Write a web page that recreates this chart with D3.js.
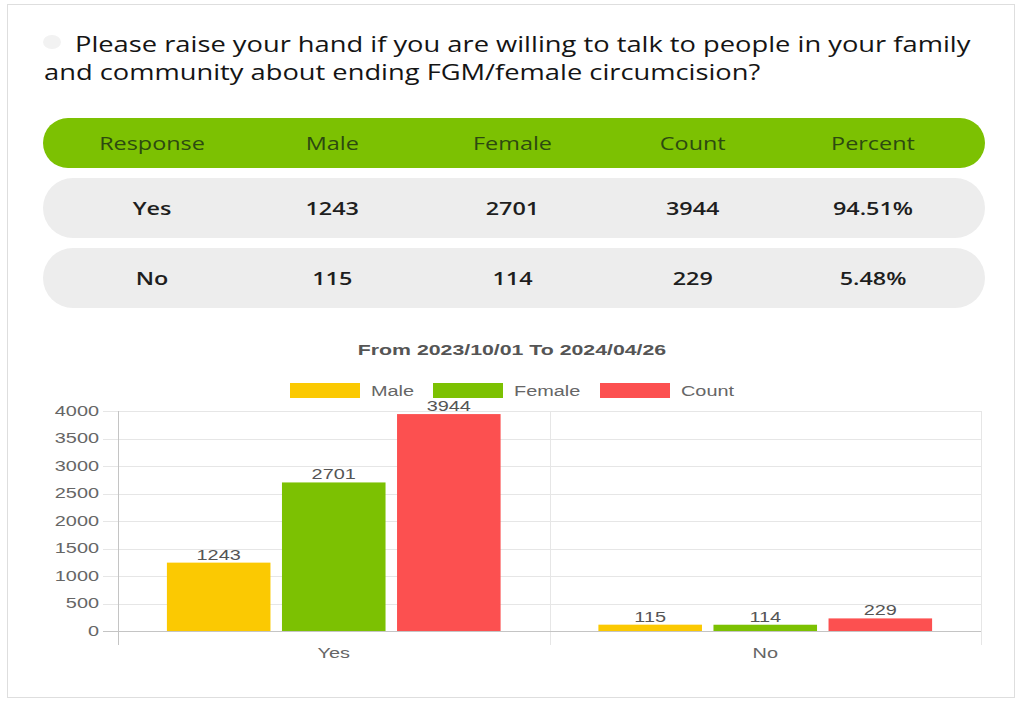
<!DOCTYPE html>
<html>
<head>
<meta charset="utf-8">
<script src="https://cdn.jsdelivr.net/npm/d3@7"></script>
<style>
	body { margin: 0; background: #fff; }
	svg { display: block; }
</style>
</head>
<body>
<div id="chart"></div>
<script>
// --------- Data --------- //
var titleLines = [
	"Please raise your hand if you are willing to talk to people in your family",
	"and community about ending FGM/female circumcision?"
];
var columns = ["Response", "Male", "Female", "Count", "Percent"];
var responses = ["Yes", "No"];
var maleVals = [1243, 115];
var femaleVals = [2701, 114];
var countVals = [3944, 229];
var percentVals = ["94.51%", "5.48%"];
var seriesNames = ["Male", "Female", "Count"];
var seriesColors = ["#fbc902", "#7cc102", "#fc5050"];
var yTicks = [0, 500, 1000, 1500, 2000, 2500, 3000, 3500, 4000];
var subtitle = "From 2023/10/01 To 2024/04/26";
// --------- /Data --------- //

var W = 1021, H = 702;
var svg = d3.select("#chart").append("svg").attr("width", W).attr("height", H);

// the source screenshot is stretched sideways, so text gets widened around its anchor x
function stretch(sel, k){
	sel.each(function(){
		var t = d3.select(this);
		var x = +t.attr("x") || 0;
		t.attr("transform", "translate(" + x + ",0) scale(" + k + ",1) translate(" + (-x) + ",0)");
	});
	return sel;
}

var uiFont = "'Open Sans', 'Noto Sans', sans-serif";
var chartFont = "'Liberation Sans', Arial, sans-serif";
var uiK = 1.3, chartK = 1.42;

// outer card
svg.append("rect").attr("x", 7.5).attr("y", 4.5).attr("width", 1007).attr("height", 693)
	.attr("fill", "#fff").attr("stroke", "#dedede");

// title
svg.append("ellipse").attr("cx", 52).attr("cy", 42).attr("rx", 9).attr("ry", 7).attr("fill", "#f2f2f2");
stretch(svg.selectAll("text.title").data(titleLines).enter().append("text")
	.attr("class", "title")
	.attr("x", function(d, i){ return i === 0 ? 75 : 44; })
	.attr("y", function(d, i){ return 52 + i * 28; })
	.attr("font-family", uiFont).attr("font-size", 21).attr("font-weight", 500)
	.attr("fill", "#141414")
	.text(function(d){ return d; }), uiK);

// --------- Table --------- //
var colX = d3.scalePoint().domain(columns).range([152, 873]);
var tableLeft = 43, tableRight = 985;

svg.append("rect").attr("x", tableLeft).attr("y", 118).attr("width", tableRight - tableLeft).attr("height", 50)
	.attr("rx", 25).attr("fill", "#7cc102");
stretch(svg.selectAll("text.head").data(columns).enter().append("text")
	.attr("class", "head")
	.attr("x", function(d){ return colX(d); }).attr("y", 150)
	.attr("text-anchor", "middle")
	.attr("font-family", uiFont).attr("font-size", 18)
	.attr("fill", "#2c4a10")
	.text(function(d){ return d; }), uiK);

var rows = responses.map(function(r, i){
	return [r, maleVals[i], femaleVals[i], countVals[i], percentVals[i]];
});
var rowG = svg.selectAll("g.row").data(rows).enter().append("g")
	.attr("class", "row")
	.attr("transform", function(d, i){ return "translate(0," + (178 + i * 70) + ")"; });
rowG.append("rect").attr("x", tableLeft).attr("width", tableRight - tableLeft).attr("height", 60)
	.attr("rx", 30).attr("fill", "#ededed");
stretch(rowG.selectAll("text").data(function(d){ return d; }).enter().append("text")
	.attr("x", function(d, i){ return colX(columns[i]); }).attr("y", 37)
	.attr("text-anchor", "middle")
	.attr("font-family", uiFont).attr("font-size", 18).attr("font-weight", 600)
	.attr("fill", "#1e1e1e")
	.text(function(d){ return d; }), uiK);
// --------- /Table --------- //

// --------- Bar chart --------- //
var plot = {left: 118, right: 981, top: 411, bottom: 631};

stretch(svg.append("text").attr("x", 512).attr("y", 355).attr("text-anchor", "middle")
	.attr("font-family", chartFont).attr("font-size", 15).attr("font-weight", "bold")
	.attr("fill", "#555").text(subtitle), chartK);

// legend
var legendX = [290, 433, 600];
var legend = svg.selectAll("g.legend").data(seriesNames).enter().append("g")
	.attr("class", "legend")
	.attr("transform", function(d, i){ return "translate(" + legendX[i] + ",383)"; });
legend.append("rect").attr("width", 70).attr("height", 15)
	.attr("fill", function(d, i){ return seriesColors[i]; });
stretch(legend.append("text").attr("x", 81).attr("y", 13)
	.attr("font-family", chartFont).attr("font-size", 14).attr("fill", "#666")
	.text(function(d){ return d; }), chartK);

var y = d3.scaleLinear().domain([0, 4000]).range([plot.bottom, plot.top]);
var x0 = d3.scaleBand().domain(responses).range([plot.left, plot.right]);
var x1 = d3.scaleBand().domain(seriesNames)
	.range([x0.bandwidth() * 0.1, x0.bandwidth() * 0.9])
	.paddingInner(0.1).paddingOuter(0.05);
var color = d3.scaleOrdinal().domain(seriesNames).range(seriesColors);

// grid
svg.append("g").selectAll("line").data(yTicks.slice(1)).enter().append("line")
	.attr("x1", plot.left - 15).attr("x2", plot.right)
	.attr("y1", function(d){ return Math.round(y(d)) + 0.5; })
	.attr("y2", function(d){ return Math.round(y(d)) + 0.5; })
	.attr("stroke", "#e6e6e6");
var vLines = [plot.left].concat(responses.map(function(r){ return x0(r) + x0.bandwidth(); }));
svg.append("g").selectAll("line").data(vLines).enter().append("line")
	.attr("x1", function(d){ return Math.round(d) + 0.5; })
	.attr("x2", function(d){ return Math.round(d) + 0.5; })
	.attr("y1", plot.top).attr("y2", plot.bottom + 14)
	.attr("stroke", function(d, i){ return i === 0 ? "#c4c4c4" : "#e6e6e6"; });

// y axis
var yAxis = d3.axisLeft(y).tickValues(yTicks).tickFormat(d3.format("d")).tickSize(0).tickPadding(19);
var yG = svg.append("g").attr("transform", "translate(" + plot.left + ",0)").call(yAxis);
yG.select(".domain").remove();
stretch(yG.selectAll("text").attr("font-family", chartFont).attr("font-size", 14).attr("fill", "#666"), chartK);

// x axis
var xAxis = d3.axisBottom(x0).tickSize(0).tickPadding(17);
var xG = svg.append("g").attr("transform", "translate(0," + plot.bottom + ")").call(xAxis);
xG.select(".domain").remove();
stretch(xG.selectAll("text").attr("font-family", chartFont).attr("font-size", 14).attr("fill", "#666"), chartK);
svg.append("line").attr("x1", plot.left - 15).attr("x2", plot.right)
	.attr("y1", plot.bottom + 0.5).attr("y2", plot.bottom + 0.5).attr("stroke", "#c4c4c4");

// bars
var barData = [];
responses.forEach(function(r, i){
	var vals = [maleVals[i], femaleVals[i], countVals[i]];
	seriesNames.forEach(function(s, j){
		barData.push({cat: r, name: s, value: vals[j]});
	});
});
var bars = svg.append("g").selectAll("g").data(barData).enter().append("g");
bars.append("rect")
	.attr("x", function(d){ return x0(d.cat) + x1(d.name); })
	.attr("y", function(d){ return y(d.value); })
	.attr("width", x1.bandwidth())
	.attr("height", function(d){ return plot.bottom - y(d.value); })
	.attr("fill", function(d){ return color(d.name); });
stretch(bars.append("text")
	.attr("x", function(d){ return x0(d.cat) + x1(d.name) + x1.bandwidth() / 2; })
	.attr("y", function(d){ return y(d.value) - 3; })
	.attr("text-anchor", "middle")
	.attr("font-family", chartFont).attr("font-size", 14).attr("fill", "#555")
	.text(function(d){ return d.value; }), chartK);
// --------- /Bar chart --------- //
</script>
</body>
</html>
